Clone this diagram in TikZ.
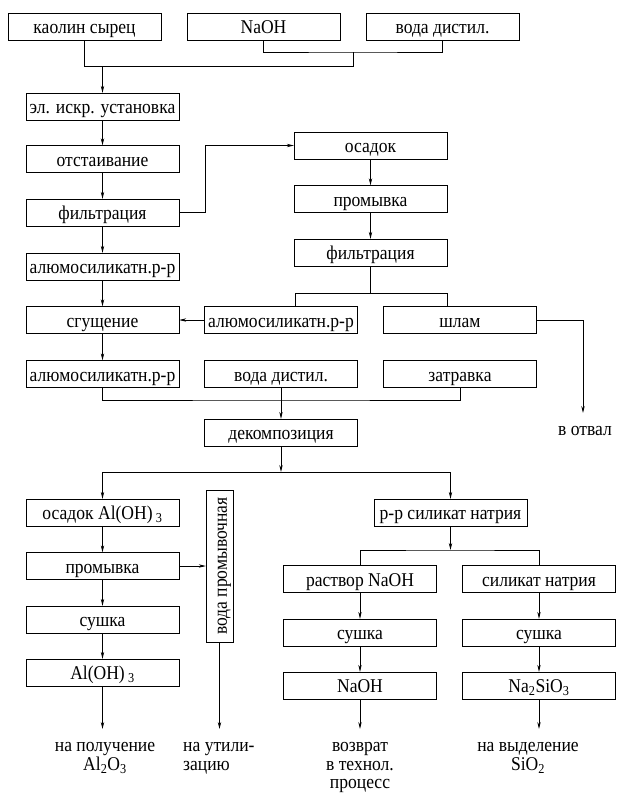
\documentclass[tikz,border=0pt]{standalone}
\usepackage{fontspec}
\setmainfont[FakeStretch=0.9]{Liberation Serif}
\usetikzlibrary{arrows.meta,positioning,calc}
\newcommand{\boxfont}{\fontsize{19.5}{18.5}\selectfont}
\tikzset{
  blk/.style  ={draw=black,fill=white,minimum width=153pt,minimum height=27pt,
                inner sep=0pt,font=\boxfont,text height=14.5pt,text depth=0pt},
  vblk/.style ={blk,rotate=90,minimum width=152pt,minimum height=27pt},
  flow/.style ={-{Stealth[length=7pt,width=3.4pt]},draw=black,line width=0.7pt},
  ln/.style   ={draw=black,line width=0.7pt},
  outtxt/.style={font=\boxfont,align=center,inner sep=0pt},
}

\begin{document}
\begin{tikzpicture}[x=1pt,y=-1pt]
\useasboundingbox (0,0) rectangle (622,796);

% ===== feed ================================================================
\node[blk] (kao)  at (84.5,26.5)  {каолин сырец};
\node[blk] (naoh) at (263.5,26.5) {NaOH};
\node[blk] (wat)  at (442.5,26.5) {вода дистил.};
\coordinate (jA) at (353,52);
\coordinate (jB) at (353,66);
\node[blk] (spark) at (102.5,106.5) {эл. искр. установка};
\draw[ln] (naoh.south) |- (jA) -| (wat.south);
\draw[ln] (kao.south) |- (jB) -- (jA);
\draw[flow] (spark.north |- jB) -- (spark.north);

% ===== left column =========================================================
\node[blk] (sett)  at (102.5,159)   {отстаивание};
\node[blk] (filt)  at (102.5,212.5) {фильтрация};
\node[blk] (als1)  at (102.5,266.5) {алюмосиликатн.р-р};
\node[blk] (thick) at (102.5,320)   {сгущение};
\node[blk] (als2)  at (102.5,374)   {алюмосиликатн.р-р};
\draw[flow] (spark) -- (sett);
\draw[flow] (sett) -- (filt);
\draw[flow] (filt) -- (als1);
\draw[flow] (als1) -- (thick);
\draw[flow] (thick) -- (als2);

% ===== sediment branch =====================================================
\node[blk] (sed)   at (370.5,145.5) {осадок};
\node[blk] (wash)  at (370.5,199)   {промывка};
\node[blk] (filt2) at (370.5,252.5) {фильтрация};
\coordinate (kF) at (205,212.5);
\draw[flow] (filt.east) -- (kF) |- (sed.west);
\draw[flow] (sed) -- (wash);
\draw[flow] (wash) -- (filt2);

\node[blk] (als3)  at (281,320) {алюмосиликатн.р-р};
\node[blk] (slime) at (460,320) {шлам};
\coordinate (jC)  at (370.5,293);
\coordinate (jC1) at (295,293);
\coordinate (jC2) at (447,293);
\draw[ln] (filt2.south) -- (jC);
\draw[ln] (jC1 |- als3.north) -- (jC1) -- (jC2) -- (jC2 |- slime.north);
\draw[flow] (als3) -- (thick);

\node[outtxt] (dump) at (585,431) {в отвал};
\coordinate (dumpE) at (583,413);
\draw[flow] (slime.east) -| (dumpE);

% ===== decomposition =======================================================
\node[blk] (wat2) at (281,374)   {вода дистил.};
\node[blk] (seed) at (460,374)   {затравка};
\node[blk] (dec)  at (281,432.5) {декомпозиция};
\coordinate (jD) at (281,400);
\draw[ln] (als2.south) |- (jD) -| (seed.south);
\draw[flow] (wat2) -- (dec);

\coordinate (jE) at (281,472);
\draw[flow] (dec) -- (jE);

% ===== Al(OH)3 line ========================================================
\node[blk] (alsed) at (102.5,512.5) {осадок Al(OH)\,\textsubscript{3}};
\node[blk] (wash2) at (102.5,566)   {промывка};
\node[blk] (dry1)  at (102.5,619.5) {сушка};
\node[blk] (aloh)  at (102.5,672.5) {Al(OH)\,\textsubscript{3}};
\node[vblk] (wwat) at (219.5,566)   {вода промывочная};
\draw[flow] (jE) -| (alsed.north);
\draw[flow] (alsed) -- (wash2);
\draw[flow] (wash2) -- (dry1);
\draw[flow] (dry1) -- (aloh);
\draw[flow] (wash2) -- (wwat);

% ===== silicate line =======================================================
\node[blk] (ss)    at (450.5,512.5) {р-р силикат натрия};
\node[blk] (sol)   at (360,579)     {раствор NaOH};
\node[blk] (sil)   at (539,579)     {силикат натрия};
\node[blk] (dry2)  at (360,632.5)   {сушка};
\node[blk] (dry3)  at (539,632.5)   {сушка};
\node[blk] (naoh2) at (360,685.5)   {NaOH};
\node[blk] (nasi)  at (539,685.5)   {Na\textsubscript{2}SiO\textsubscript{3}};
\coordinate (jF) at (450.5,550);
\draw[flow] (jE) -| (ss.north);
\draw[flow] (ss) -- (jF);
\draw[ln] (sol.north) |- (jF) -| (sil.north);
\draw[flow] (sol) -- (dry2);
\draw[flow] (sil) -- (dry3);
\draw[flow] (dry2) -- (naoh2);
\draw[flow] (dry3) -- (nasi);

% ===== outputs =============================================================
\coordinate (e1) at (102.5,729);
\coordinate (e2) at (219.5,729);
\coordinate (e3) at (360,729);
\coordinate (e4) at (539,729);
\draw[flow] (aloh) -- (e1);
\draw[flow] (wwat) -- (e2);
\draw[flow] (naoh2) -- (e3);
\draw[flow] (nasi) -- (e4);
\node[outtxt,anchor=north]      (o1) at (105,742.5) {на получение\\Al\textsubscript{2}O\textsubscript{3}};
\node[outtxt,anchor=north west,align=left] (o2) at (183,742.5) {на утили-\\зацию};
\node[outtxt,anchor=north]      (o3) at (360,742.5) {возврат\\в технол.\\процесс};
\node[outtxt,anchor=north]      (o4) at (528,742.5) {на выделение\\SiO\textsubscript{2}};
\end{tikzpicture}
\end{document}
